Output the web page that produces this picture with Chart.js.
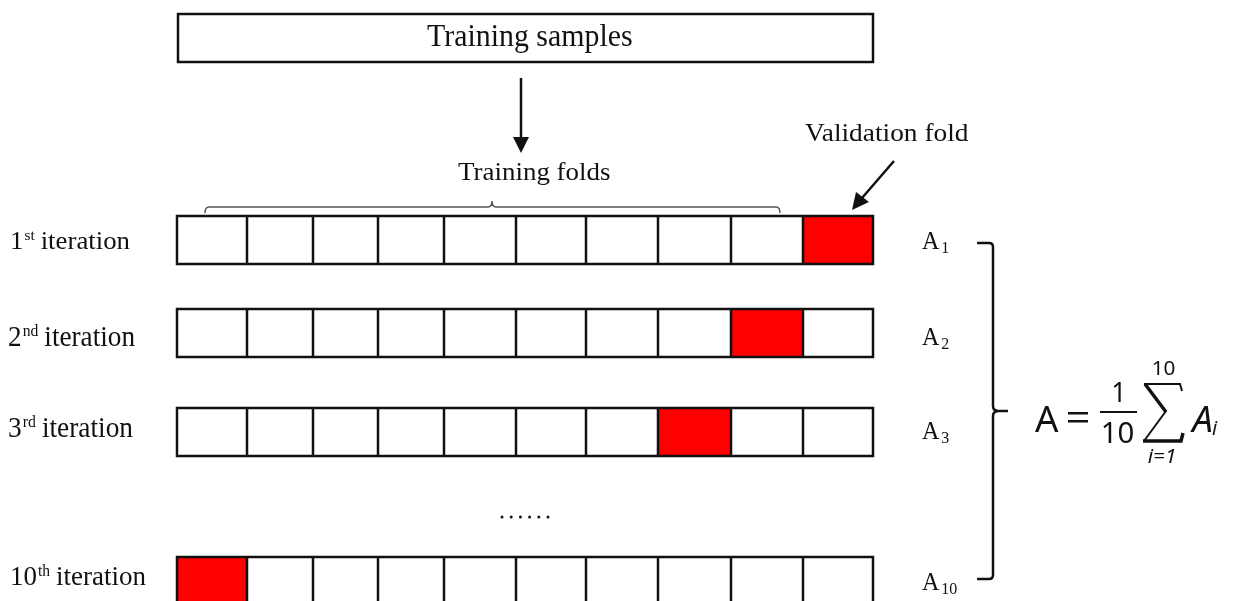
<!DOCTYPE html>
<html>
<head>
<meta charset="utf-8">
<script src="https://cdn.jsdelivr.net/npm/chart.js@4.4.0/dist/chart.umd.min.js"></script>
<style>
  html, body { margin: 0; padding: 0; background: #fff; }
  #wrap { width: 1237px; height: 601px; }
</style>
</head>
<body>
<div id="wrap"><canvas id="myChart" width="1237" height="601"></canvas></div>
<script>
// 10-fold cross validation scheme
const foldCount = 10;
const iterations = [1, 2, 3, 10];
const ordinalSuffix = ['st', 'nd', 'rd', 'th'];
const validationFold = [10, 9, 8, 1];        // which fold is red in each row
const accuracyIndex = ['1', '2', '3', '10'];
const topLabel = 'Training samples';
const foldsLabel = 'Training folds';
const validLabel = 'Validation fold';

// layout in axis units (axis = canvas pixels)
const foldEdges = [177, 247, 313, 378, 444, 516, 586, 658, 731, 803, 873];
const rowTop = [216, 309, 408, 557];
const rowH = 48;
const labelBox = [[10, 130, 232, 249], [8, 135, 327, 346], [8, 133, 418, 437], [10, 146, 567, 585]];
const accBase = [249, 345, 439, 590];

const serif = '"Liberation Serif", "Times New Roman", serif';
const sans = '"Noto Sans", "Open Sans", sans-serif';

// stretch text so its ink runs [l,r] and from ink top t to baseline
function fitCap(ctx, text, font, l, r, t, base) {
  ctx.font = font;
  const m = ctx.measureText(text);
  const w = m.actualBoundingBoxLeft + m.actualBoundingBoxRight;
  ctx.save();
  ctx.textAlign = 'left';
  ctx.textBaseline = 'alphabetic';
  ctx.translate(l, base);
  ctx.scale((r - l) / w, (base - t) / m.actualBoundingBoxAscent);
  ctx.fillText(text, m.actualBoundingBoxLeft, 0);
  ctx.restore();
}

// uniform scale: ink height t..b, centred on cx
function fitH(ctx, text, font, cx, t, b) {
  ctx.font = font;
  const m = ctx.measureText(text);
  const h = m.actualBoundingBoxAscent + m.actualBoundingBoxDescent;
  const w = m.actualBoundingBoxLeft + m.actualBoundingBoxRight;
  const s = (b - t) / h;
  ctx.save();
  ctx.textAlign = 'left';
  ctx.textBaseline = 'alphabetic';
  ctx.translate(cx, t);
  ctx.scale(s, s);
  ctx.fillText(text, -w / 2 + m.actualBoundingBoxLeft, m.actualBoundingBoxAscent);
  ctx.restore();
}

const diagram = {
  id: 'diagram',
  afterDraw(chart) {
    const ctx = chart.ctx;
    const x = chart.scales.x, y = chart.scales.y;
    const X = v => x.getPixelForValue(v);
    const Y = v => y.getPixelForValue(v);

    ctx.save();
    ctx.fillStyle = '#fff';
    ctx.fillRect(0, 0, chart.width, chart.height);
    ctx.lineJoin = 'miter';

    // top box
    ctx.strokeStyle = '#111';
    ctx.lineWidth = 2.5;
    ctx.strokeRect(X(178), Y(14), X(873) - X(178), Y(62) - Y(14));
    ctx.fillStyle = '#111';
    fitCap(ctx, topLabel, '30px ' + serif, X(427), X(632), Y(25), Y(46));

    // down arrow
    ctx.lineWidth = 2.5;
    ctx.beginPath();
    ctx.moveTo(X(521), Y(78));
    ctx.lineTo(X(521), Y(140));
    ctx.stroke();
    ctx.beginPath();
    ctx.moveTo(X(513), Y(137));
    ctx.lineTo(X(529), Y(137));
    ctx.lineTo(X(521), Y(153));
    ctx.closePath();
    ctx.fill();

    fitCap(ctx, foldsLabel, '27px ' + serif, X(458), X(610), Y(162), Y(180));
    fitCap(ctx, validLabel, '27px ' + serif, X(805), X(969), Y(123), Y(141));

    // validation arrow
    ctx.beginPath();
    ctx.moveTo(X(894), Y(161));
    ctx.lineTo(X(862), Y(198));
    ctx.stroke();
    ctx.beginPath();
    ctx.moveTo(X(852), Y(210));
    ctx.lineTo(X(856), Y(192));
    ctx.lineTo(X(869), Y(202));
    ctx.closePath();
    ctx.fill();

    // training folds bracket
    ctx.strokeStyle = '#555';
    ctx.lineWidth = 1.5;
    ctx.beginPath();
    ctx.moveTo(X(205), Y(213));
    ctx.quadraticCurveTo(X(205), Y(207), X(209), Y(207));
    ctx.lineTo(X(488), Y(207));
    ctx.quadraticCurveTo(X(492), Y(207), X(492), Y(201));
    ctx.quadraticCurveTo(X(492), Y(207), X(496), Y(207));
    ctx.lineTo(X(776), Y(207));
    ctx.quadraticCurveTo(X(780), Y(207), X(780), Y(213));
    ctx.stroke();

    // fold rows
    iterations.forEach((it, r) => {
      const t = rowTop[r], b = rowTop[r] + rowH;
      const k0 = validationFold[r] - 1;
      ctx.fillStyle = '#ff0000';
      ctx.fillRect(X(foldEdges[k0]), Y(t), X(foldEdges[k0 + 1]) - X(foldEdges[k0]), Y(b) - Y(t));
      ctx.strokeStyle = '#111';
      ctx.lineWidth = 2.5;
      ctx.strokeRect(X(foldEdges[0]), Y(t), X(foldEdges[foldCount]) - X(foldEdges[0]), Y(b) - Y(t));
      ctx.beginPath();
      for (let k = 1; k < foldCount; k++) {
        ctx.moveTo(X(foldEdges[k]), Y(t));
        ctx.lineTo(X(foldEdges[k]), Y(b));
      }
      ctx.stroke();

      // row label "1st iteration" stretched into its box
      const [l, rr, top, base] = labelBox[r];
      const F = 26;
      ctx.textAlign = 'left';
      ctx.textBaseline = 'alphabetic';
      ctx.font = F + 'px ' + serif;
      const num = String(it);
      const mNum = ctx.measureText(num);
      const wNum = mNum.width;
      const capH = mNum.actualBoundingBoxAscent;
      ctx.font = Math.round(F * 0.56) + 'px ' + serif;
      const wSuf = ctx.measureText(ordinalSuffix[r]).width;
      ctx.font = F + 'px ' + serif;
      const mIt = ctx.measureText('iteration');
      const gap = F * 0.22;
      const total = wNum + 1 + wSuf + gap + mIt.actualBoundingBoxRight;
      ctx.save();
      ctx.fillStyle = '#111';
      ctx.translate(X(l), Y(base));
      ctx.scale((X(rr) - X(l)) / total, (Y(base) - Y(top)) / capH);
      ctx.font = F + 'px ' + serif;
      ctx.fillText(num, 0, 0);
      ctx.font = Math.round(F * 0.56) + 'px ' + serif;
      ctx.fillText(ordinalSuffix[r], wNum + 1, -F * 0.33);
      ctx.font = F + 'px ' + serif;
      ctx.fillText('iteration', wNum + 1 + wSuf + gap, 0);
      ctx.restore();

      // accuracy A_i
      ctx.save();
      ctx.fillStyle = '#111';
      ctx.translate(X(922), Y(accBase[r]));
      ctx.scale(1, 1.08);
      ctx.font = '24px ' + serif;
      ctx.fillText('A', 0, 0);
      const wA = ctx.measureText('A').width;
      ctx.font = '16px ' + serif;
      ctx.fillText(accuracyIndex[r], wA + 2, 4);
      ctx.restore();
    });

    // dots between rows
    ctx.fillStyle = '#111';
    for (let i = 0; i < 6; i++) {
      ctx.beginPath();
      ctx.arc(X(502 + i * 9.2), Y(517), 1.5, 0, Math.PI * 2);
      ctx.fill();
    }

    // right brace
    ctx.strokeStyle = '#111';
    ctx.lineWidth = 2.5;
    ctx.beginPath();
    ctx.moveTo(X(977), Y(243));
    ctx.lineTo(X(989), Y(243));
    ctx.quadraticCurveTo(X(993), Y(243), X(993), Y(247));
    ctx.lineTo(X(993), Y(406));
    ctx.quadraticCurveTo(X(993), Y(411), X(999), Y(411));
    ctx.lineTo(X(1008), Y(411));
    ctx.moveTo(X(999), Y(411));
    ctx.quadraticCurveTo(X(993), Y(411), X(993), Y(416));
    ctx.lineTo(X(993), Y(575));
    ctx.quadraticCurveTo(X(993), Y(579), X(989), Y(579));
    ctx.lineTo(X(977), Y(579));
    ctx.stroke();

    // formula A = 1/10 sum A_i
    ctx.fillStyle = '#111';
    fitH(ctx, 'A', '34px ' + sans, X(1047), Y(405), Y(432));
    ctx.fillRect(X(1068), Y(412), X(1088) - X(1068), 2.5);
    ctx.fillRect(X(1068), Y(420), X(1088) - X(1068), 2.5);
    fitH(ctx, '1', '28px ' + sans, X(1117), Y(383), Y(402));
    fitH(ctx, '10', '28px ' + sans, X(1118), Y(422), Y(443));
    ctx.fillRect(X(1100), Y(411), X(1137) - X(1100), 2);

    // summation sign drawn as strokes
    ctx.strokeStyle = '#111';
    ctx.lineCap = 'butt';
    ctx.lineWidth = 2;
    ctx.beginPath();
    ctx.moveTo(X(1144), Y(384));
    ctx.lineTo(X(1180), Y(384));
    ctx.lineTo(X(1182), Y(391));
    ctx.stroke();
    ctx.lineWidth = 3.5;
    ctx.beginPath();
    ctx.moveTo(X(1145), Y(384));
    ctx.lineTo(X(1166), Y(412));
    ctx.stroke();
    ctx.lineWidth = 2;
    ctx.beginPath();
    ctx.moveTo(X(1166), Y(411));
    ctx.lineTo(X(1144), Y(441));
    ctx.stroke();
    ctx.lineWidth = 3.5;
    ctx.beginPath();
    ctx.moveTo(X(1143), Y(441));
    ctx.lineTo(X(1181), Y(441));
    ctx.lineTo(X(1183), Y(433));
    ctx.stroke();

    fitH(ctx, '10', '18px ' + sans, X(1164), Y(360), Y(375));
    fitH(ctx, 'i=1', 'italic 18px ' + sans, X(1161), Y(448), Y(463));
    fitH(ctx, 'A', 'italic 34px ' + sans, X(1201), Y(405), Y(432));
    fitH(ctx, 'i', 'italic 20px ' + sans, X(1215), Y(421), Y(435));
    ctx.restore();
  }
};

new Chart(document.getElementById('myChart'), {
  type: 'scatter',
  data: { datasets: [{ data: [], showLine: false }] },
  options: {
    responsive: false,
    animation: false,
    devicePixelRatio: 1,
    layout: { padding: 0 },
    plugins: { legend: { display: false }, tooltip: { enabled: false } },
    scales: {
      x: { type: 'linear', min: 0, max: 1237, display: false },
      y: { type: 'linear', min: 0, max: 601, reverse: true, display: false }
    }
  },
  plugins: [diagram]
});
</script>
</body>
</html>
